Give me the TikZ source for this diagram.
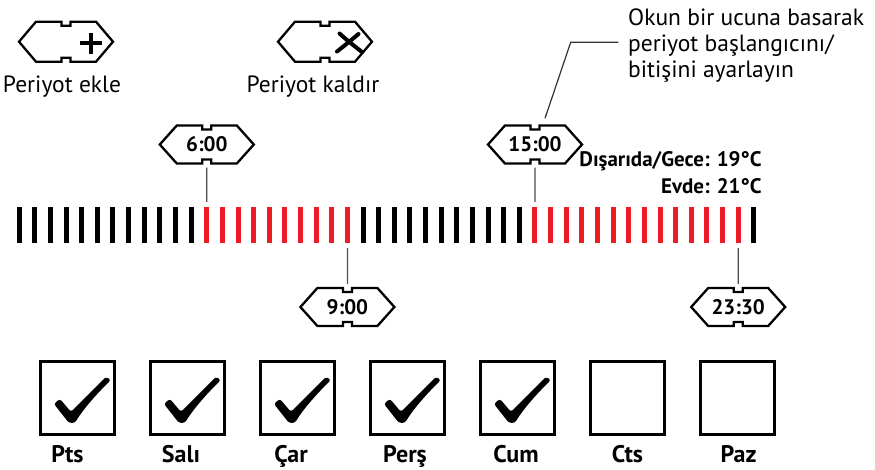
\documentclass[tikz,border=0pt]{standalone}
\usepackage{fontspec}
\setmainfont{PT Sans}
\usetikzlibrary{calc}
\definecolor{barred}{HTML}{ED1C24}
\definecolor{tickgray}{HTML}{4D4D4D}
\tikzset{
  hexline/.style={line width=2.3pt, line join=miter},
  hexframe/.pic={\draw[hexline] (-47,0) -- (-30,-#1) -- (-4.5,-#1) -- (-4.5,-#1+4) -- (4.5,-#1+4) -- (4.5,-#1) -- (30,-#1) -- (47,0) -- (30,#1) -- (4.5,#1) -- (4.5,#1-4) -- (-4.5,#1-4) -- (-4.5,#1) -- (-30,#1) -- cycle;},
  checkmk/.pic={\fill[rounded corners=2.5pt] (15,44) -- (21,39) -- (32,52) -- (67,17) -- (72,20) .. controls (55,37) and (44,50) .. (36,63) -- (30,63) -- cycle;},
  tlabel/.style={font=\bfseries\fontsize{21}{25}\selectfont, minimum width=94pt, minimum height=38pt, inner sep=0pt},
  barbox/.style={minimum width=5pt, minimum height=36pt, inner sep=0pt, draw=none},
  tickline/.style={line width=1.2pt, draw=tickgray},
  plainlbl/.style={font=\fontsize{23.5}{28}\selectfont, inner sep=0pt},
  templbl/.style={font=\bfseries\fontsize{21}{25}\selectfont, inner sep=0pt, anchor=base east},
  daybox/.style={draw, line width=2.8pt, minimum width=74pt, minimum height=73.5pt, inner sep=0pt},
  daylbl/.style={font=\bfseries\fontsize{24}{28}\selectfont, inner sep=0pt, anchor=base},
  callline/.style={line width=1.2pt, draw=black!80},
}
\begin{document}
\begin{tikzpicture}[x=1pt,y=-1pt]
\useasboundingbox (0,0) rectangle (875,469);
% top icons
\pic at (66,41.7) {hexframe=20};
\draw[line width=4pt] (80,43) -- (101.5,43) (90.7,33) -- (90.7,53.5);
\pic at (325,41.7) {hexframe=20};
\draw[line width=4pt, line cap=round] (339.5,33.5) .. controls (348,41) .. (362,52);
\draw[line width=4pt, line cap=round] (358.5,34) .. controls (349,42) .. (337,51.5);
\node[plainlbl, anchor=base] (lbladd) at (62,92) {Periyot ekle};
\node[plainlbl, anchor=base] (lbldel) at (313,92) {Periyot kaldır};
% callout
\node[plainlbl, anchor=base west] (c1) at (628,25) {Okun bir ucuna basarak};
\node[plainlbl, anchor=base west] (c2) at (628,51.5) {periyot başlangıcını/};
\node[plainlbl, anchor=base west] (c3) at (628,77) {bitişini ayarlayın};
% bars
\foreach \i in {0,...,47}{
  \def\col{black}
  \ifnum\i>11 \ifnum\i<22 \def\col{barred}\fi\fi
  \ifnum\i>32 \ifnum\i<47 \def\col{barred}\fi\fi
  \node[barbox, fill=\col] (b\i) at ({19.2+15.63*\i},225) {};
}
% time labels
\node[tlabel] (t6) at (206.8,144.5) {6:00};
\pic at (t6.center) {hexframe=19};
\node[tlabel] (t15) at (535.0,144.5) {15:00};
\pic at (t15.center) {hexframe=19};
\node[tlabel] (t9) at (347.4,307) {9:00};
\pic at (t9.center) {hexframe=19};
\node[tlabel] (t23) at (738.2,307) {23:30};
\pic at (t23.center) {hexframe=19};
\draw[tickline, shorten <=4pt, shorten >=5pt] (t6.south) -- (b12.north);
\draw[tickline, shorten <=4pt, shorten >=5pt] (t15.south) -- (b33.north);
\draw[tickline, shorten <=5pt, shorten >=4pt] (b21.south) -- (t9.north);
\draw[tickline, shorten <=5pt, shorten >=4pt] (b46.south) -- (t23.north);
\coordinate (cbend) at (570.7,42.3);
\coordinate (cend) at (618.3,42.3);
\draw[callline] ([shift={(10,-7)}]t15.north) -- (cbend) -- (cend);
% temperatures
\node[templbl] (tout) at (761.7,166.7) {Dışarıda/Gece: 19°C};
\node[templbl] (tin) at (761.7,193.3) {Evde: 21°C};
% day boxes
\foreach \i/\lx/\ly/\d/\chk in {0/67.5/462/Pts/1, 1/181/462/Salı/1, 2/291/462/Çar/1, 3/405/462/Perş/1, 4/516/462/Cum/1, 5/627.5/462/Cts/0, 6/738.5/462.5/Paz/0}{
  \node[daybox] (d\i) at ({77.3+110*\i},398) {};
  \ifnum\chk=1 \pic at (d\i.north west) {checkmk}; \fi
  \node[daylbl] (l\i) at (\lx,\ly) {\d};
}
\end{tikzpicture}
\end{document}
